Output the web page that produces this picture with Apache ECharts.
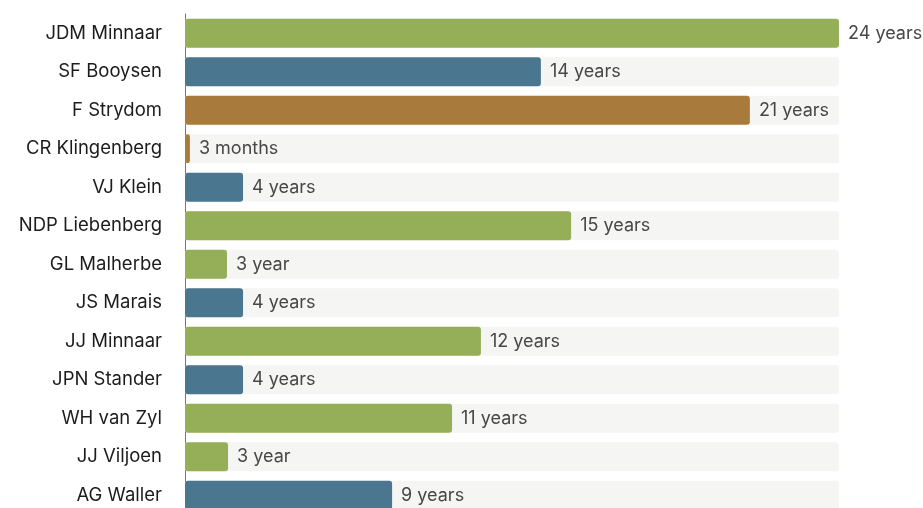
<!DOCTYPE html>
<html>
<head>
<meta charset="utf-8">
<script src="https://cdn.jsdelivr.net/npm/echarts@6/dist/echarts.min.js"></script>
<style>
  html, body { margin: 0; padding: 0; background: #fff; overflow: hidden; }
  /* chart runs past the bottom edge, like the reference crop */
  #chart { width: 923px; height: 520px; }
</style>
</head>
<body>
<div id="chart"></div>
<script>
// names, top to bottom
const names = ['JDM Minnaar', 'SF Booysen', 'F Strydom', 'CR Klingenberg', 'VJ Klein', 'NDP Liebenberg',
  'GL Malherbe', 'JS Marais', 'JJ Minnaar', 'JPN Stander', 'WH van Zyl', 'JJ Viljoen', 'AG Waller'];
// bar lengths (full track = 24)
const lengths = [24, 13.06, 20.73, 0.18, 2.13, 14.17, 1.54, 2.13, 10.86, 2.13, 9.8, 1.58, 7.6];
// text shown next to each bar
const tenure = ['24 years', '14 years', '21 years', '3 months', '4 years', '15 years',
  '3 year', '4 years', '12 years', '4 years', '11 years', '3 year', '9 years'];
// colour group per bar
const groups = ['g', 'b', 'o', 'o', 'b', 'g', 'g', 'b', 'g', 'b', 'g', 'g', 'b'];
const trackMax = 24;

const palette = { g: '#95ae58', b: '#4b7690', o: '#a87b3d' };

const chart = echarts.init(document.getElementById('chart'));
chart.setOption({
  animation: false,
  grid: { left: 185, right: 84, top: 14, bottom: 5.5 },
  xAxis: {
    type: 'value',
    min: 0,
    max: trackMax,
    show: false
  },
  yAxis: {
    type: 'category',
    inverse: true,
    data: names,
    offset: 9,
    axisLine: { show: true, lineStyle: { color: '#777', width: 1 } },
    axisTick: { show: false },
    axisLabel: {
      margin: 14,
      color: '#1c1c1c',
      fontFamily: 'Inter',
      fontSize: 18.5
    }
  },
  series: [{
    type: 'bar',
    barWidth: 29,
    showBackground: true,
    backgroundStyle: { color: '#f5f5f3', borderRadius: 3 },
    data: lengths.map((v, i) => ({
      value: v,
      itemStyle: { color: palette[groups[i]], borderRadius: 3 }
    })),
    label: {
      show: true,
      position: 'right',
      distance: 9,
      color: '#474747',
      fontFamily: 'Inter',
      fontSize: 18,
      formatter: p => tenure[p.dataIndex]
    }
  }]
});
</script>
</body>
</html>
